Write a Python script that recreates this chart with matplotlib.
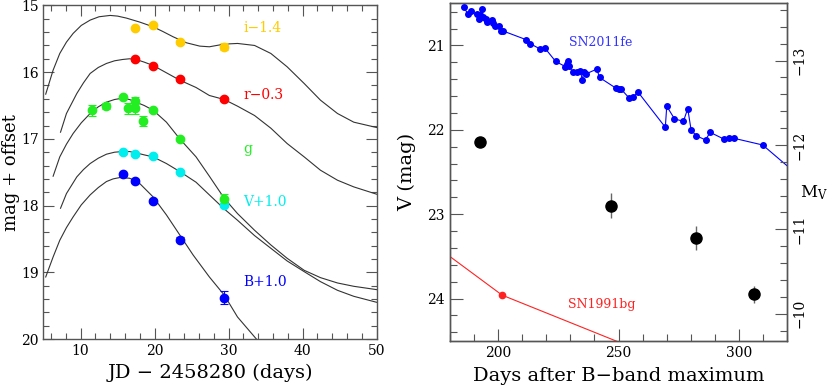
import matplotlib
matplotlib.use("Agg")
import matplotlib.pyplot as plt
from matplotlib.ticker import MultipleLocator, FuncFormatter

plt.rcParams['font.family'] = ['DejaVu Serif']
plt.rcParams['mathtext.fontset'] = 'dejavuserif'

# ---------------- Left panel data ----------------
i_x = [17.4, 19.8, 23.4, 29.4]
i_y = [15.34, 15.30, 15.55, 15.62]
i_e = [0.02, 0.02, 0.03, 0.05]

r_x = [17.4, 19.8, 23.4, 29.4]
r_y = [15.81, 15.91, 16.11, 16.41]
r_e = [0.02, 0.02, 0.02, 0.03]

g_x = [11.5, 13.4, 15.8, 16.4, 17.4, 17.4, 18.4, 19.8, 23.4, 29.4]
g_y = [16.57, 16.51, 16.38, 16.54, 16.43, 16.54, 16.73, 16.57, 17.00, 17.90]
g_e = [0.08, 0.05, 0.02, 0.08, 0.05, 0.08, 0.08, 0.02, 0.02, 0.08]

V_x = [15.8, 17.4, 19.8, 23.4, 29.4]
V_y = [17.20, 17.23, 17.26, 17.49, 17.99]
V_e = [0.02, 0.02, 0.02, 0.02, 0.03]

B_x = [15.8, 17.4, 19.8, 23.4, 29.4]
B_y = [17.53, 17.63, 17.93, 18.51, 19.38]
B_e = [0.02, 0.03, 0.03, 0.04, 0.10]

# template curves
ci_x = [5.3, 6.3, 7.2, 8.1, 9.0, 10.1, 11.3, 12.5, 14.0, 15.0, 16.2, 18.0, 19.8, 21.1, 22.5,
        24.3, 26.1, 27.4, 29.4, 31.2, 33.5, 35.7, 37.9, 40.2, 42.4, 44.7, 46.9, 49.6, 50.0]
ci_y = [16.33, 15.97, 15.72, 15.55, 15.42, 15.30, 15.22, 15.17, 15.15, 15.16, 15.19, 15.25,
        15.32, 15.39, 15.47, 15.56, 15.61, 15.62, 15.58, 15.57, 15.60, 15.72, 15.92, 16.17,
        16.42, 16.62, 16.75, 16.82, 16.83]

cr_x = [7.3, 8.1, 9.5, 10.4, 11.3, 12.4, 13.5, 14.6, 15.7, 16.6, 17.5, 18.6, 19.8, 21.6, 23.4,
        25.6, 27.4, 29.4, 31.2, 33.5, 35.7, 37.9, 40.2, 42.4, 44.7, 46.9, 50.0]
cr_y = [16.90, 16.62, 16.32, 16.16, 16.02, 15.93, 15.87, 15.83, 15.81, 15.80, 15.81, 15.85,
        15.90, 16.01, 16.12, 16.23, 16.35, 16.41, 16.51, 16.65, 16.84, 17.07, 17.27, 17.47,
        17.62, 17.72, 17.83]

cg_x = [6.3, 7.2, 8.1, 9.0, 10.1, 11.3, 12.4, 13.5, 14.6, 15.7, 16.6, 17.5, 18.6, 19.8, 21.6,
        23.4, 25.6, 27.4, 29.4, 31.2, 33.5, 35.7, 37.9, 40.2, 42.4, 44.7, 46.9, 50.0]
cg_y = [17.56, 17.27, 17.08, 16.92, 16.76, 16.62, 16.52, 16.45, 16.41, 16.39, 16.41, 16.45,
        16.50, 16.57, 16.75, 17.00, 17.27, 17.56, 17.89, 18.12, 18.37, 18.59, 18.79, 18.97,
        19.08, 19.16, 19.21, 19.26]

cV_x = [7.3, 8.1, 9.5, 10.4, 11.3, 12.4, 13.5, 14.6, 15.7, 16.6, 17.5, 18.6, 19.8, 21.6, 23.4,
        25.6, 27.4, 29.4, 31.2, 33.5, 35.7, 37.9, 40.2, 42.4, 44.7, 46.9, 50.0]
cV_y = [18.04, 17.82, 17.57, 17.46, 17.37, 17.29, 17.23, 17.20, 17.19, 17.19, 17.21, 17.24,
        17.27, 17.37, 17.49, 17.65, 17.84, 18.05, 18.22, 18.45, 18.64, 18.83, 18.99, 19.14,
        19.27, 19.36, 19.45]

cB_x = [5.3, 6.3, 7.2, 8.1, 9.0, 10.1, 11.3, 12.4, 13.5, 14.4, 15.3, 16.6, 17.3, 18.0, 19.8,
        21.6, 23.4, 25.2, 27.4, 29.4, 31.2, 33.9, 35.0]
cB_y = [19.07, 18.77, 18.52, 18.33, 18.17, 17.99, 17.84, 17.73, 17.64, 17.60, 17.58, 17.59,
        17.62, 17.67, 17.87, 18.14, 18.44, 18.74, 19.07, 19.34, 19.67, 20.02, 20.20]

band_labels = ["i\u22121.4", "r\u22120.3", "g", "V+1.0", "B+1.0"]
band_label_y = [15.34, 16.35, 17.15, 17.94, 19.14]
band_colors = ["#ffcc00", "#ff0000", "#22ee22", "#00eeee", "#0000ff"]

# ---------------- Right panel data ----------------
fe_x = [185.8, 187.6, 188.6, 191.1, 192.1, 192.7, 193.4, 193.8, 194.8, 195.6, 197.3, 197.7,
        198.6, 200.3, 201.1, 202.2, 211.5, 213.4, 217.3, 219.4, 223.9, 227.9, 228.6, 229.0,
        229.3, 231.1, 232.7, 234.1, 235.0, 235.5, 236.3, 241.0, 242.1, 249.1, 250.0, 251.1,
        254.3, 256.2, 258.0, 269.4, 270.0, 273.2, 276.9, 278.7, 280.1, 282.2, 286.1, 288.0,
        293.7, 295.7, 297.8, 309.8, 325.0]
fe_y = [20.55, 20.63, 20.59, 20.63, 20.69, 20.64, 20.57, 20.66, 20.69, 20.72, 20.70, 20.74,
        20.77, 20.77, 20.83, 20.83, 20.93, 20.98, 21.04, 21.03, 21.19, 21.25, 21.22, 21.19,
        21.24, 21.32, 21.32, 21.30, 21.41, 21.32, 21.34, 21.28, 21.38, 21.51, 21.52, 21.52,
        21.62, 21.61, 21.55, 21.97, 21.72, 21.87, 21.90, 21.75, 22.00, 22.07, 22.12, 22.03,
        22.11, 22.10, 22.10, 22.18, 22.55]

bg_x = [170.0, 201.7, 260.0]
bg_y = [23.29, 23.96, 24.63]

obs_x = [192.7, 247.0, 282.3, 306.1]
obs_y = [22.15, 22.90, 23.28, 23.95]
obs_e = [0.03, 0.15, 0.14, 0.10]

dist_mod = 34.18

# ---------------- Figure ----------------
fig = plt.figure(figsize=(8.3, 3.87), dpi=100)
axL = fig.add_axes([0.0524, 0.124, 0.4015, 0.862])
axR = fig.add_axes([0.542, 0.1196, 0.4065, 0.872])

spine_col = "#555555"
curve_col = "#333333"

for cx, cy in [(ci_x, ci_y), (cr_x, cr_y), (cg_x, cg_y), (cV_x, cV_y), (cB_x, cB_y)]:
    axL.plot(cx, cy, color=curve_col, lw=0.8, zorder=2, solid_joinstyle='round')

series = [(B_x, B_y, B_e, band_colors[4]), (V_x, V_y, V_e, band_colors[3]),
          (g_x, g_y, g_e, band_colors[2]), (r_x, r_y, r_e, band_colors[1]),
          (i_x, i_y, i_e, band_colors[0])]
for sx, sy, se, c in series:
    axL.errorbar(sx, sy, yerr=se, fmt='o', color=c, ms=6, mec=c, ecolor=c,
                 elinewidth=0.8, capsize=3, capthick=0.8, zorder=3)

for lab, ly, c in zip(band_labels, band_label_y, band_colors):
    axL.text(32.0, ly, lab, color=c, fontsize=10, va='center', ha='left')

axL.set_xlim(5, 50)
axL.set_ylim(20, 15)
axL.xaxis.set_major_locator(MultipleLocator(10))
axL.xaxis.set_minor_locator(MultipleLocator(2))
axL.yaxis.set_major_locator(MultipleLocator(1))
axL.yaxis.set_minor_locator(MultipleLocator(0.2))
axL.tick_params(which='both', direction='in', top=True, right=True, color=spine_col,
                labelsize=10)
axL.tick_params(which='major', length=8, width=0.8)
axL.tick_params(which='minor', length=4, width=0.8)
axL.set_xlabel("JD \u2212 2458280 (days)", fontsize=14, labelpad=4)
for s in axL.spines.values():
    s.set_color(spine_col)
    s.set_linewidth(1.0)
fig.text(11 / 830, 0.555, "mag + offset", fontsize=13, rotation=90,
         ha='center', va='center')

# right panel
axR.plot(fe_x, fe_y, '-o', color='#0000ff', lw=0.8, ms=4, zorder=3)
axR.plot(bg_x, bg_y, '-o', color='#ff2222', lw=0.8, ms=4.5, zorder=3)
axR.errorbar(obs_x, obs_y, yerr=obs_e, fmt='o', color='black', ms=8,
             ecolor='#666666', elinewidth=1.0, capsize=0, zorder=4)
axR.text(242.4, 20.97, "SN2011fe", color='#3333ff', fontsize=9, ha='center', va='center')
axR.text(243.1, 24.07, "SN1991bg", color='#ff2222', fontsize=9, ha='center', va='center')

axR.set_xlim(180, 320)
axR.set_ylim(24.5, 20.5)
axR.xaxis.set_major_locator(MultipleLocator(50))
axR.xaxis.set_minor_locator(MultipleLocator(10))
axR.yaxis.set_major_locator(MultipleLocator(1))
axR.yaxis.set_minor_locator(MultipleLocator(0.2))
axR.tick_params(which='both', direction='in', top=False, right=False, color=spine_col,
                labelsize=10)
axR.tick_params(which='major', length=9, width=0.8)
axR.tick_params(which='minor', length=5, width=0.8)
axR.set_xlabel("Days after B\u2212band maximum", fontsize=14, labelpad=5)
axR.set_ylabel("V (mag)", fontsize=14, labelpad=8)
for s in axR.spines.values():
    s.set_color(spine_col)
    s.set_linewidth(1.0)

axM = axR.twinx()
axM.set_ylim(24.5 - dist_mod, 20.5 - dist_mod)
axM.yaxis.set_major_locator(MultipleLocator(1))
axM.yaxis.set_minor_locator(MultipleLocator(0.2))
axM.tick_params(which='both', direction='in', color=spine_col, labelsize=10)
axM.tick_params(which='major', length=9, width=0.8)
axM.tick_params(which='minor', length=5, width=0.8)
axM.yaxis.set_major_formatter(FuncFormatter(
    lambda v, p: ("\u2212%d" % abs(round(v))) if v < 0 else "%d" % round(v)))
for lab in axM.get_yticklabels():
    lab.set_rotation(90)
    lab.set_va('center')
for s in axM.spines.values():
    s.set_color(spine_col)
    s.set_linewidth(1.0)
fig.text(828 / 830, 1 - 193 / 387, r"M$_{\rm V}$", fontsize=12, ha='right', va='center')

fig.savefig("out.png", dpi=100)
